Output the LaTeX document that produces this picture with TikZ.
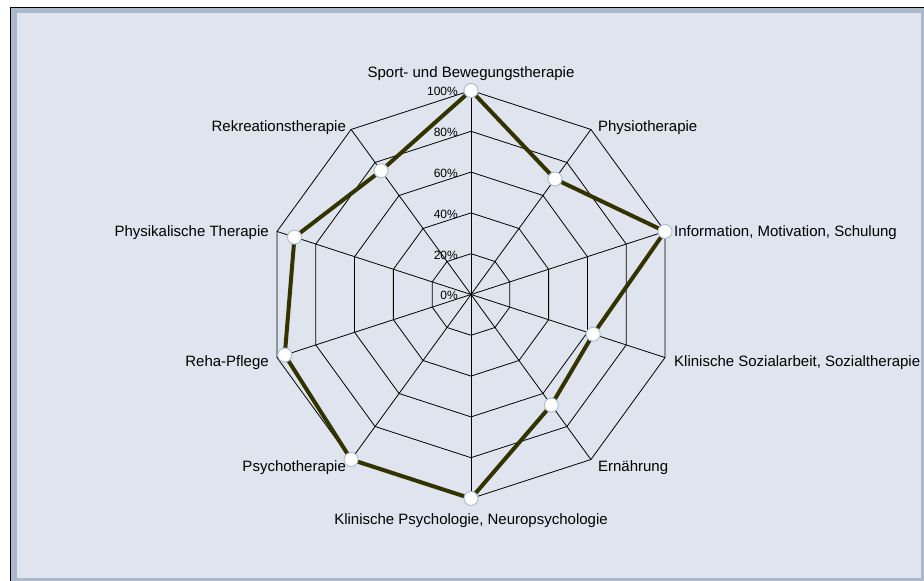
\documentclass[tikz,border=0pt]{standalone}
\usepackage{fontspec}
\setmainfont{Liberation Sans}
\usepackage{tikz}
\usetikzlibrary{positioning}

\definecolor{rahmen}{RGB}{170,186,204}
\definecolor{hinter}{RGB}{224,228,238}
\definecolor{linie}{RGB}{51,51,0}
\definecolor{punktrand}{RGB}{176,192,210}

\begin{document}
\begin{tikzpicture}[x=1pt, y=1pt,
            netz/.style={draw=black, line width=0.8pt},
            datenlinie/.style={draw=linie, line width=4pt, line join=round},
            punkt/.style={circle, draw=punktrand, fill=white, line width=1pt, minimum size=14pt, inner sep=0pt},
            achse/.style={font=\fontsize{15}{18}\selectfont, inner sep=0pt},
            prozent/.style={font=\fontsize{12}{14}\selectfont, inner sep=0pt, anchor=base east}
        ]

        \useasboundingbox (0,0) rectangle (924,581);

        % Rahmen
        \fill[rahmen] (11,0) rectangle (924,573);
        \fill[hinter] (17,3) rectangle (921,568);
        \draw[black, line width=1.2pt] (10.6,0) -- (10.6,573.4) -- (924,573.4);

        % Mittelpunkt und Achsenenden
        \coordinate (c) at (471,286.5);
        \coordinate (a0) at ([shift={(90:204)}] c);
        \coordinate (a1) at ([shift={(54:204)}] c);
        \coordinate (a2) at ([shift={(18:204)}] c);
        \coordinate (a3) at ([shift={(-18:204)}] c);
        \coordinate (a4) at ([shift={(-54:204)}] c);
        \coordinate (a5) at ([shift={(-90:204)}] c);
        \coordinate (a6) at ([shift={(-126:204)}] c);
        \coordinate (a7) at ([shift={(-162:204)}] c);
        \coordinate (a8) at ([shift={(162:204)}] c);
        \coordinate (a9) at ([shift={(126:204)}] c);

        % Netz
        \foreach \r in {40.8, 81.6, 122.4, 163.2, 204}
            \draw[netz] ([shift={(90:\r)}] c) -- ([shift={(54:\r)}] c) -- ([shift={(18:\r)}] c) -- ([shift={(-18:\r)}] c) -- ([shift={(-54:\r)}] c) -- ([shift={(-90:\r)}] c) -- ([shift={(-126:\r)}] c) -- ([shift={(-162:\r)}] c) -- ([shift={(162:\r)}] c) -- ([shift={(126:\r)}] c) -- cycle;
        \foreach \i in {0,...,9}
            \draw[netz] (c) -- (a\i);

        % Prozentwerte
        \node[prozent] (p0) at ([xshift=-13pt, yshift=-5.5pt] c) {0\%};
        \node[prozent] (p20) at ([xshift=-13pt, yshift=35.3pt] c) {20\%};
        \node[prozent] (p40) at ([xshift=-13pt, yshift=76.1pt] c) {40\%};
        \node[prozent] (p60) at ([xshift=-13pt, yshift=116.9pt] c) {60\%};
        \node[prozent] (p80) at ([xshift=-13pt, yshift=157.7pt] c) {80\%};
        \node[prozent] (p100) at ([xshift=-13pt, yshift=198.5pt] c) {100\%};

        % Datenpunkte
        \coordinate (d0) at ([shift={(90:204)}] c);
        \coordinate (d1) at ([shift={(54:142.8)}] c);
        \coordinate (d2) at ([shift={(18:204)}] c);
        \coordinate (d3) at ([shift={(-18:128.5)}] c);
        \coordinate (d4) at ([shift={(-54:136.7)}] c);
        \coordinate (d5) at ([shift={(-90:204)}] c);
        \coordinate (d6) at ([shift={(-126:204)}] c);
        \coordinate (d7) at ([shift={(-162:195.8)}] c);
        \coordinate (d8) at ([shift={(162:185.6)}] c);
        \coordinate (d9) at ([shift={(126:153)}] c);

        \draw[datenlinie] (d0) -- (d1) -- (d2) -- (d3) -- (d4) -- (d5) -- (d6) -- (d7) -- (d8) -- (d9) -- cycle;
        \foreach \i in {0,...,9}
            \node[punkt] (m\i) at (d\i) {};

        % Achsenbeschriftung
        \node[achse, anchor=base] (l0) at ([yshift=12.5pt] a0) {Sport- und Bewegungstherapie};
        \node[achse, anchor=base west] (l1) at ([xshift=7pt, yshift=-2.5pt] a1) {Physiotherapie};
        \node[achse, anchor=base west] (l2) at ([xshift=9pt, yshift=-5.5pt] a2) {Information, Motivation, Schulung};
        \node[achse, anchor=base west] (l3) at ([xshift=9pt, yshift=-8.5pt] a3) {Klinische Sozialarbeit, Sozialtherapie};
        \node[achse, anchor=base west] (l4) at ([xshift=7pt, yshift=-11.5pt] a4) {Ernährung};
        \node[achse, anchor=base] (l5) at ([yshift=-26.5pt] a5) {Klinische Psychologie, Neuropsychologie};
        \node[achse, anchor=base east] (l6) at ([xshift=-5pt, yshift=-11.5pt] a6) {Psychotherapie};
        \node[achse, anchor=base east] (l7) at ([xshift=-8pt, yshift=-8.5pt] a7) {Reha-Pflege};
        \node[achse, anchor=base east] (l8) at ([xshift=-8pt, yshift=-5.5pt] a8) {Physikalische Therapie};
        \node[achse, anchor=base east] (l9) at ([xshift=-5pt, yshift=-2.5pt] a9) {Rekreationstherapie};

    \end{tikzpicture}
\end{document}
